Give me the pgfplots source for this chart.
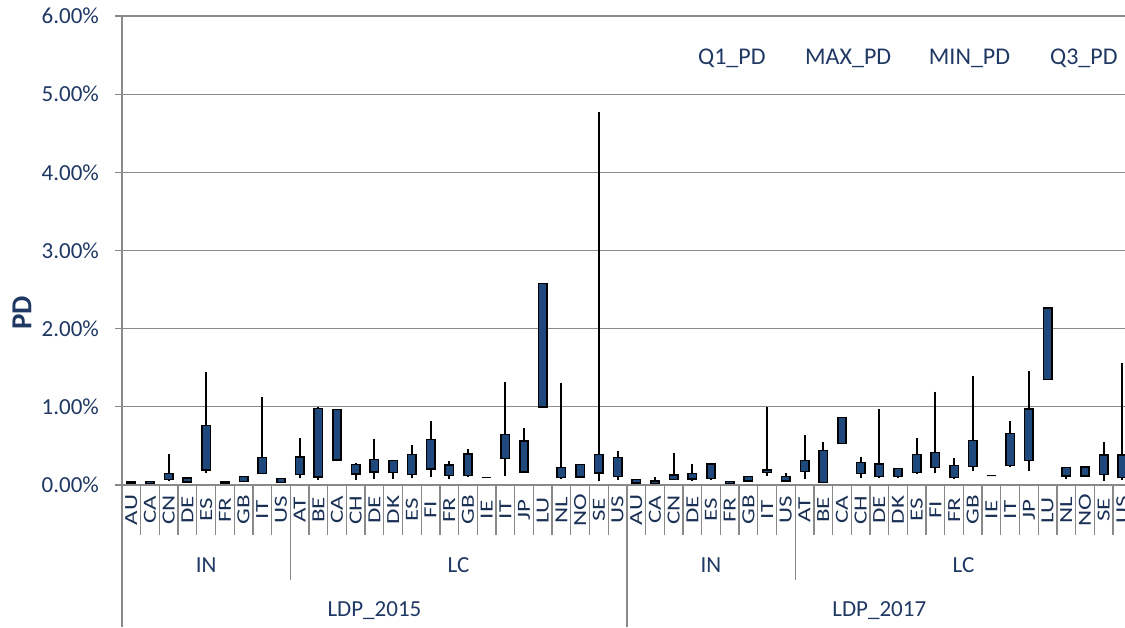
\documentclass[border=0pt]{standalone}
\usepackage{fontspec}
\setmainfont{Carlito}
\usepackage{pgfplots}
\pgfplotsset{compat=1.18}
\usepackage{pgfplotstable}
\usepgfplotslibrary{statistics}

\definecolor{boxblue}{RGB}{31,73,125}
\definecolor{txtblue}{RGB}{31,56,100}
\definecolor{axgray}{RGB}{137,137,137}

% one row per candle: Q1, Q3, min and max PD (in percent)
\pgfplotstableread{
x  q1    q3    mn    mx
0  0.020 0.040 0.015 0.045
1  0.020 0.045 0.015 0.050
2  0.072 0.149 0.050 0.392
3  0.038 0.090 0.034 0.098
4  0.192 0.763 0.158 1.449
5  0.020 0.038 0.020 0.040
6  0.047 0.107 0.038 0.115
7  0.149 0.350 0.140 1.125
8  0.030 0.081 0.030 0.085
9  0.132 0.362 0.090 0.601
10 0.102 0.980 0.060 1.000
11 0.320 0.968 0.320 0.968
12 0.141 0.264 0.060 0.277
13 0.170 0.328 0.072 0.590
14 0.158 0.311 0.077 0.311
15 0.136 0.392 0.090 0.507
16 0.205 0.580 0.098 0.818
17 0.119 0.256 0.072 0.303
18 0.119 0.400 0.107 0.456
19 0.098 0.098 0.098 0.098
20 0.337 0.648 0.119 1.321
21 0.166 0.563 0.166 0.729
22 1.000 2.580 1.000 2.580
23 0.098 0.226 0.072 1.309
24 0.102 0.260 0.102 0.260
25 0.153 0.392 0.055 4.770
26 0.107 0.354 0.060 0.435
27 0.026 0.068 0.026 0.068
28 0.020 0.050 0.015 0.100
29 0.072 0.128 0.072 0.413
30 0.077 0.149 0.047 0.268
31 0.081 0.268 0.077 0.286
32 0.020 0.043 0.020 0.043
33 0.055 0.107 0.055 0.107
34 0.158 0.192 0.115 0.997
35 0.055 0.107 0.055 0.149
36 0.175 0.311 0.072 0.635
37 0.034 0.443 0.020 0.546
38 0.533 0.865 0.533 0.865
39 0.149 0.286 0.085 0.362
40 0.110 0.268 0.085 0.968
41 0.107 0.213 0.090 0.213
42 0.158 0.392 0.150 0.597
43 0.222 0.418 0.158 1.193
44 0.098 0.247 0.072 0.345
45 0.239 0.571 0.183 1.394
46 0.119 0.119 0.119 0.119
47 0.247 0.661 0.226 0.814
48 0.311 0.972 0.175 1.458
49 1.351 2.264 1.351 2.264
50 0.115 0.222 0.072 0.222
51 0.115 0.230 0.115 0.230
52 0.132 0.384 0.051 0.546
53 0.098 0.380 0.064 1.560
}\pd

\begin{document}
\begin{tikzpicture}[font=\fontsize{11.5}{13}\selectfont]
\begin{axis}[
    scale only axis,
    width=501.5pt, height=234.5pt,
    xmin=-0.5, xmax=53.14,
    ymin=0, ymax=6,
    axis lines*=left,
    axis line style={axgray, line width=0.65pt},
    tick align=outside,
    major tick length=3.5pt,
    minor tick length=25pt,
    tick style={axgray, line width=0.65pt},
    major x tick style={draw=none},
    ymajorgrids,
    grid style={axgray, line width=0.65pt},
    ytick={0,1,...,6},
    yticklabel={\pgfmathprintnumber[fixed, fixed zerofill, precision=2]{\tick}\%},
    /pgf/number format/assume math mode=true,
    yticklabel shift=4.5pt,
    tick label style={text=txtblue},
    xtick={0,1,...,53},
    xticklabels={AU,CA,CN,DE,ES,FR,GB,IT,US,AT,BE,CA,CH,DE,DK,ES,FI,FR,GB,IE,IT,JP,LU,NL,NO,SE,US,
                 AU,CA,CN,DE,ES,FR,GB,IT,US,AT,BE,CA,CH,DE,DK,ES,FI,FR,GB,IE,IT,JP,LU,NL,NO,SE,US},
    xticklabel style={rotate=90, anchor=center, yscale=0.74, font=\fontsize{12.5}{14}\selectfont,
        inner sep=0pt, text=txtblue!85!black},
    xticklabel shift=9pt,
    minor xtick={-0.5,0.5,...,52.5},
    candle/.style={draw=black, line width=0.8pt, fill=boxblue, solid,
        boxplot/box extend=0.45, boxplot/whisker extend=0, boxplot/draw direction=y,
        boxplot/every whisker/.style={line width=1pt}},
]
\pgfplotsinvokeforeach{0,...,53}{
  \pgfplotstablegetelem{#1}{q1}\of\pd \let\cQa\pgfplotsretval
  \pgfplotstablegetelem{#1}{q3}\of\pd \let\cQb\pgfplotsretval
  \pgfplotstablegetelem{#1}{mn}\of\pd \let\cLo\pgfplotsretval
  \pgfplotstablegetelem{#1}{mx}\of\pd \let\cHi\pgfplotsretval
  \edef\candleplot{\noexpand\addplot[candle, boxplot prepared={draw position=#1,
      lower whisker=\cLo, lower quartile=\cQa, median=\cQa,
      upper quartile=\cQb, upper whisker=\cHi}] coordinates {};}
  \candleplot
}
% legend texts (the series have no marks)
\node[text=txtblue, font=\fontsize{12}{14}\selectfont] at (rel axis cs:0.608,0.91) {Q1\_PD};
\node[text=txtblue, font=\fontsize{12}{14}\selectfont] at (rel axis cs:0.724,0.91) {MAX\_PD};
\node[text=txtblue, font=\fontsize{12}{14}\selectfont] at (rel axis cs:0.845,0.91) {MIN\_PD};
\node[text=txtblue, font=\fontsize{12}{14}\selectfont] at (rel axis cs:0.959,0.91) {Q3\_PD};
\coordinate (b0) at (axis cs:-0.5,0);
\coordinate (b1) at (axis cs:8.5,0);
\coordinate (b2) at (axis cs:26.5,0);
\coordinate (b3) at (axis cs:35.5,0);
\coordinate (g1) at (axis cs:4,0);
\coordinate (g2) at (axis cs:17.5,0);
\coordinate (g3) at (axis cs:31,0);
\coordinate (g4) at (axis cs:44.5,0);
\coordinate (t1) at (axis cs:13,0);
\coordinate (t2) at (axis cs:40,0);
\end{axis}
% group separators below the axis
\draw[axgray, line width=0.65pt] (b0) -- ++(0,-71pt);
\draw[axgray, line width=0.65pt] (b2) -- ++(0,-71pt);
\draw[axgray, line width=0.65pt] (b1) -- ++(0,-47.5pt);
\draw[axgray, line width=0.65pt] (b3) -- ++(0,-47.5pt);
\foreach \g/\t in {g1/IN, g2/LC, g3/IN, g4/LC}
  \node[text=txtblue] at ([yshift=-40pt]\g) {\t};
\node[text=txtblue] at ([yshift=-63pt]t1) {LDP\_2015};
\node[text=txtblue] at ([yshift=-63pt]t2) {LDP\_2017};
\node[text=txtblue, font=\bfseries\fontsize{14.5}{16}\selectfont, rotate=90]
  at ([xshift=-50pt, yshift=86pt]b0) {PD};
\pgfresetboundingbox
\path ([xshift=-61pt, yshift=-71pt]b0) rectangle ++(562.5pt,313.5pt);
\end{tikzpicture}
\end{document}
